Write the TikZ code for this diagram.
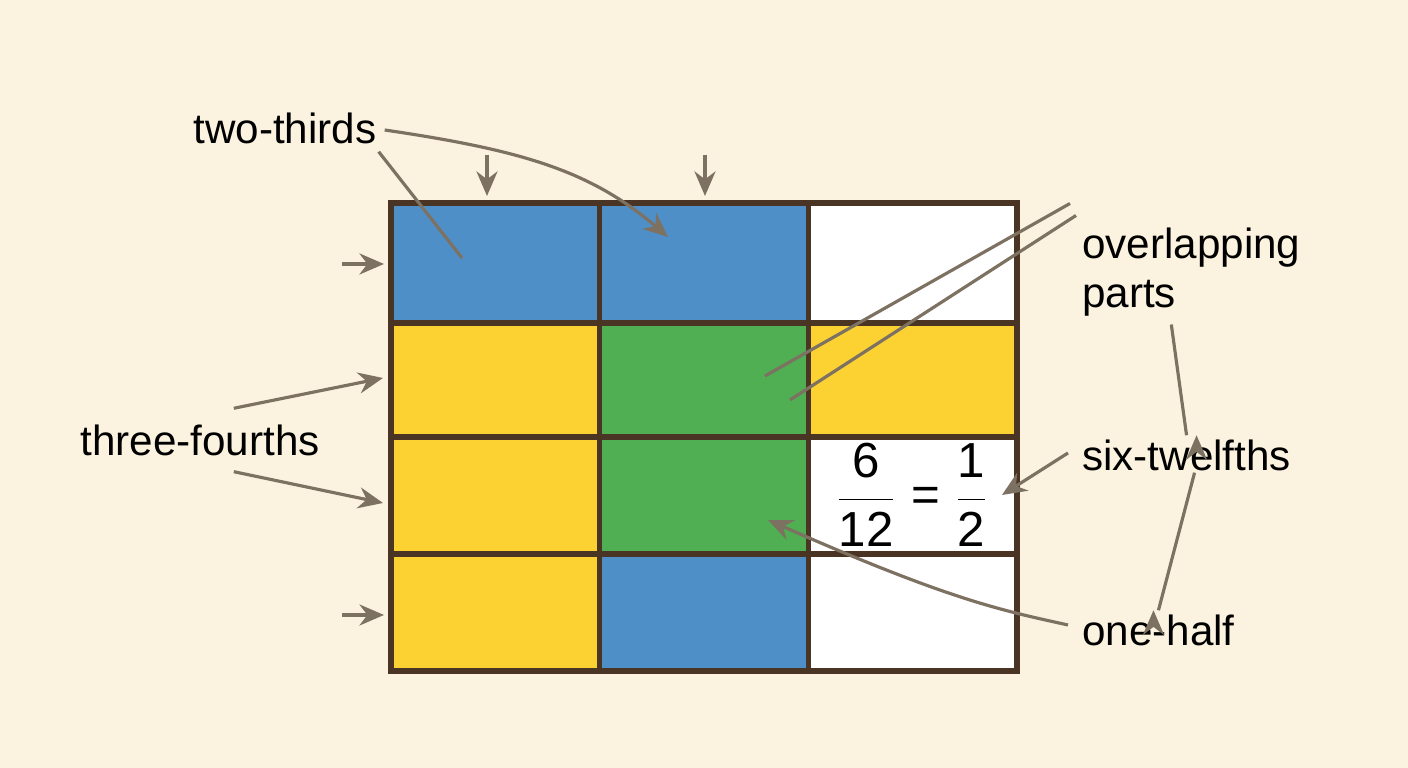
\documentclass[tikz,border=0pt]{standalone}
\usepackage{fontspec}
\setmainfont{Liberation Sans}
\usetikzlibrary{arrows.meta}
\definecolor{paper}{HTML}{FBF3DF}
\definecolor{cellblue}{HTML}{4F8FC8}
\definecolor{cellyellow}{HTML}{FCD232}
\definecolor{cellgreen}{HTML}{4FAF52}
\definecolor{gridline}{HTML}{4A3524}
\definecolor{pointer}{HTML}{7D7162}
\tikzset{
  cell/.style={draw=gridline, line width=1.6pt},
  lbl/.style={font=\fontsize{12}{14}\selectfont, inner sep=1pt},
  ptr/.style={pointer, line width=0.9pt, -{Stealth[length=7pt,width=6pt]}},
  ptrline/.style={pointer, line width=0.9pt}
}
\begin{document}
\begin{tikzpicture}[x=0.01cm, y=-0.01cm]
    \fill[paper] (0,0) rectangle (1408,768);
    \useasboundingbox (0,0) rectangle (1408,768);

    % grid cells: column, row, colour
    \foreach \c/\r/\col in {0/0/cellblue, 1/0/cellblue, 2/0/white,
                            0/1/cellyellow, 1/1/cellgreen, 2/1/cellyellow,
                            0/2/cellyellow, 1/2/cellgreen, 2/2/white,
                            0/3/cellyellow, 1/3/cellblue, 2/3/white} {
        \pgfmathsetmacro{\xa}{391 + 208.67*\c}
        \pgfmathsetmacro{\xb}{391 + 208.67*(\c+1)}
        \pgfmathsetmacro{\ya}{{203,323,437,554}[\r]}
        \pgfmathsetmacro{\yb}{{323,437,554,671}[\r]}
        \filldraw[cell, fill=\col] (\xa,\ya) rectangle (\xb,\yb);
    }

    % labels
    \node[lbl] (twothirds) at (285,128) {two-thirds};
    \node[lbl, anchor=west, align=left] (overlap) at (1078,272) {overlapping\\parts};
    \node[lbl] (threefourths) at (200,440) {three-fourths};
    \node[lbl, anchor=west] (sixtwelfths) at (1078,455) {six-twelfths};
    \node[lbl, anchor=west] (onehalf) at (1078,630) {one-half};
    \node[font=\fontsize{14}{16}\selectfont] (frac) at (912,495)
        {$\displaystyle\frac{\hbox{6}}{\hbox{12}}\hbox{ = }\frac{\hbox{1}}{\hbox{2}}$};

    % pointer ends
    \coordinate (tA) at (462,258);
    \coordinate (tB) at (668,237);
    \coordinate (fA) at (383,378);
    \coordinate (fB) at (383,503);
    \coordinate (oA) at (765,376);
    \coordinate (oB) at (790,400);
    \coordinate (hA) at (768,520);
    \foreach \n/\x/\y in {d1/487/155, d2/705/155} {
        \coordinate (\n s) at (\x,\y);
        \coordinate (\n e) at (\x,196);
        \draw[ptr] (\n s) -- (\n e);
    }
    \foreach \n/\y in {r1/264, r2/615} {
        \coordinate (\n s) at (342,\y);
        \coordinate (\n e) at (384,\y);
        \draw[ptr] (\n s) -- (\n e);
    }

    % pointers
    \draw[ptrline] (twothirds.south east) ++(-2,4) -- (tA);
    \draw[ptr] (twothirds.east) ++(4,2) .. controls (520,150) and (590,170) .. (tB);
    \draw[ptr] (threefourths.north east) ++(-90,-12) -- (fA);
    \draw[ptr] (threefourths.south east) ++(-90,12) -- (fB);
    \draw[ptrline] (overlap.north west) ++(-8,-20) -- (oA);
    \draw[ptrline] (overlap.north west) ++(-2,-8) -- (oB);
    \draw[ptr] (overlap.south) ++(-20,4) -- (sixtwelfths.north) ++(10,0);
    \draw[ptr] (sixtwelfths.south) ++(8,-2) -- (onehalf.north) ++(-5,0);
    \draw[ptr] (sixtwelfths.west) ++(-10,-2) -- (frac.east);
    \draw[ptr] (onehalf.west) ++(-10,-5) .. controls (1000,610) and (950,600) .. (hA);
\end{tikzpicture}
\end{document}
